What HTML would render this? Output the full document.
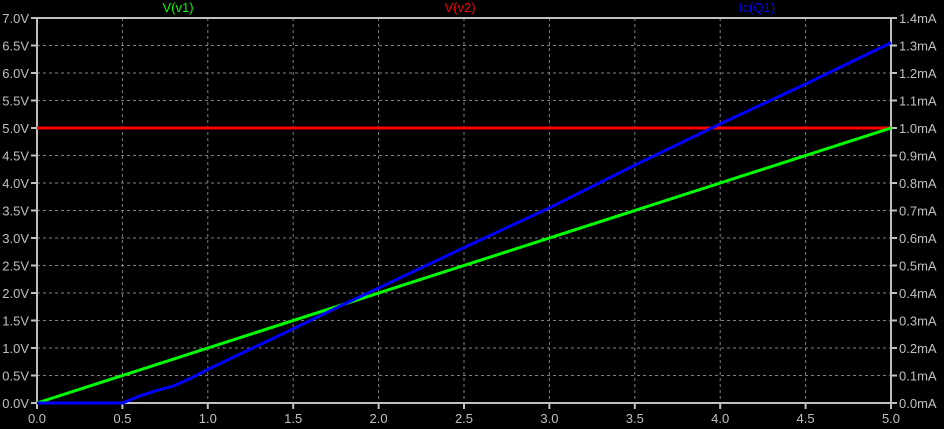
<!DOCTYPE html>
<html><head><meta charset="utf-8"><style>
html,body{margin:0;padding:0;background:#000;}
svg{display:block;font-family:"Liberation Sans",sans-serif;font-size:13px;}
</style></head><body>
<svg id="chart" width="944" height="429">
<rect x="0" y="0" width="944" height="429" fill="#000"/>
<g id="grid"></g>
<g id="axes"></g>
<g id="series"></g>
<text x="178" y="12" fill="#00ff00" text-anchor="middle">V(v1)</text>
<text x="460" y="12" fill="#ff0000" text-anchor="middle">V(v2)</text>
<text x="757" y="12" fill="#0000ff" text-anchor="middle">Ic(Q1)</text>
</svg>
<script>
const xTicks=[0,0.5,1.0,1.5,2.0,2.5,3.0,3.5,4.0,4.5,5.0];
const yLeftTicks=[0,0.5,1,1.5,2,2.5,3,3.5,4,4.5,5,5.5,6,6.5,7];
const yRightTicks=[0,0.1,0.2,0.3,0.4,0.5,0.6,0.7,0.8,0.9,1.0,1.1,1.2,1.3,1.4];
const v1X=[0,5];
const v1Y=[0,5];
const v2X=[0,5];
const v2Y=[5,5];
const icX=[0,0.5,0.6,0.7,0.8,0.9,1.0,1.5,1.8,2.0,2.5,3.0,3.5,4.0,4.5,5.0];
const icY=[0,0,0.025,0.045,0.062,0.09,0.122,0.27,0.36,0.418,0.565,0.71,0.865,1.015,1.16,1.31];

const L=37,R=891,T=18,B=403;
const sx=v=>L+(v-0)/5*(R-L);
const syL=v=>B-v/7*(B-T);
const syR=v=>B-v/1.4*(B-T);
const NS="http://www.w3.org/2000/svg";
function mk(tag,attrs,parent){const e=document.createElementNS(NS,tag);for(const k in attrs)e.setAttribute(k,attrs[k]);parent.appendChild(e);return e;}
const grid=document.getElementById('grid'),axes=document.getElementById('axes'),ser=document.getElementById('series');
xTicks.forEach(t=>{
  const x=sx(t);
  if(t>0&&t<5){const g=mk('line',{x1:x,y1:T,x2:x,y2:B,stroke:'#808080','stroke-dasharray':'3,3','stroke-width':1},grid);
  
  }
  const tk=mk('line',{x1:x,y1:B,x2:x,y2:B+6,stroke:'#c0c0c0','stroke-width':2},axes);
  
  
  const lb=mk('text',{x:x,y:B+20,fill:'#c0c0c0','text-anchor':'middle'},axes);lb.textContent=t.toFixed(1);
  
  
});
yLeftTicks.forEach(t=>{
  const y=syL(t);
  if(t>0&&t<7){const g=mk('line',{x1:L,y1:y,x2:R,y2:y,stroke:'#808080','stroke-dasharray':'3,3','stroke-width':1},grid);
  
  }
  const tk=mk('line',{x1:L-6,y1:y,x2:L,y2:y,stroke:'#c0c0c0','stroke-width':2},axes);
  
  
  const lb=mk('text',{x:L-8,y:y+5,fill:'#c0c0c0','text-anchor':'end'},axes);lb.textContent=t.toFixed(1)+'V';
  
  
});
yRightTicks.forEach(t=>{
  const y=syR(t);
  const tk=mk('line',{x1:R,y1:y,x2:R+6,y2:y,stroke:'#c0c0c0','stroke-width':2},axes);
  
  
  const lb=mk('text',{x:R+8,y:y+5,fill:'#c0c0c0','text-anchor':'start'},axes);lb.textContent=t.toFixed(1)+'mA';
  
  
});
const fr=mk('rect',{x:L,y:T,width:R-L,height:B-T,fill:'none',stroke:'#c0c0c0','stroke-width':2},axes);


function line(xs,ys,sy,color,name){
  const d=xs.map((x,i)=>(i?'L':'M')+sx(x).toFixed(1)+','+sy(ys[i]).toFixed(1)).join(' ');
  const p=mk('path',{d:d,fill:'none',stroke:color,'stroke-width':3,'stroke-linejoin':'round'},ser);
  
  
}
line(v2X,v2Y,syL,'#ff0000','series-v-v2');
line(v1X,v1Y,syL,'#00ff00','series-v-v1');
line(icX,icY,syR,'#0000ff','series-ic-q1');
</script>
</body></html>
